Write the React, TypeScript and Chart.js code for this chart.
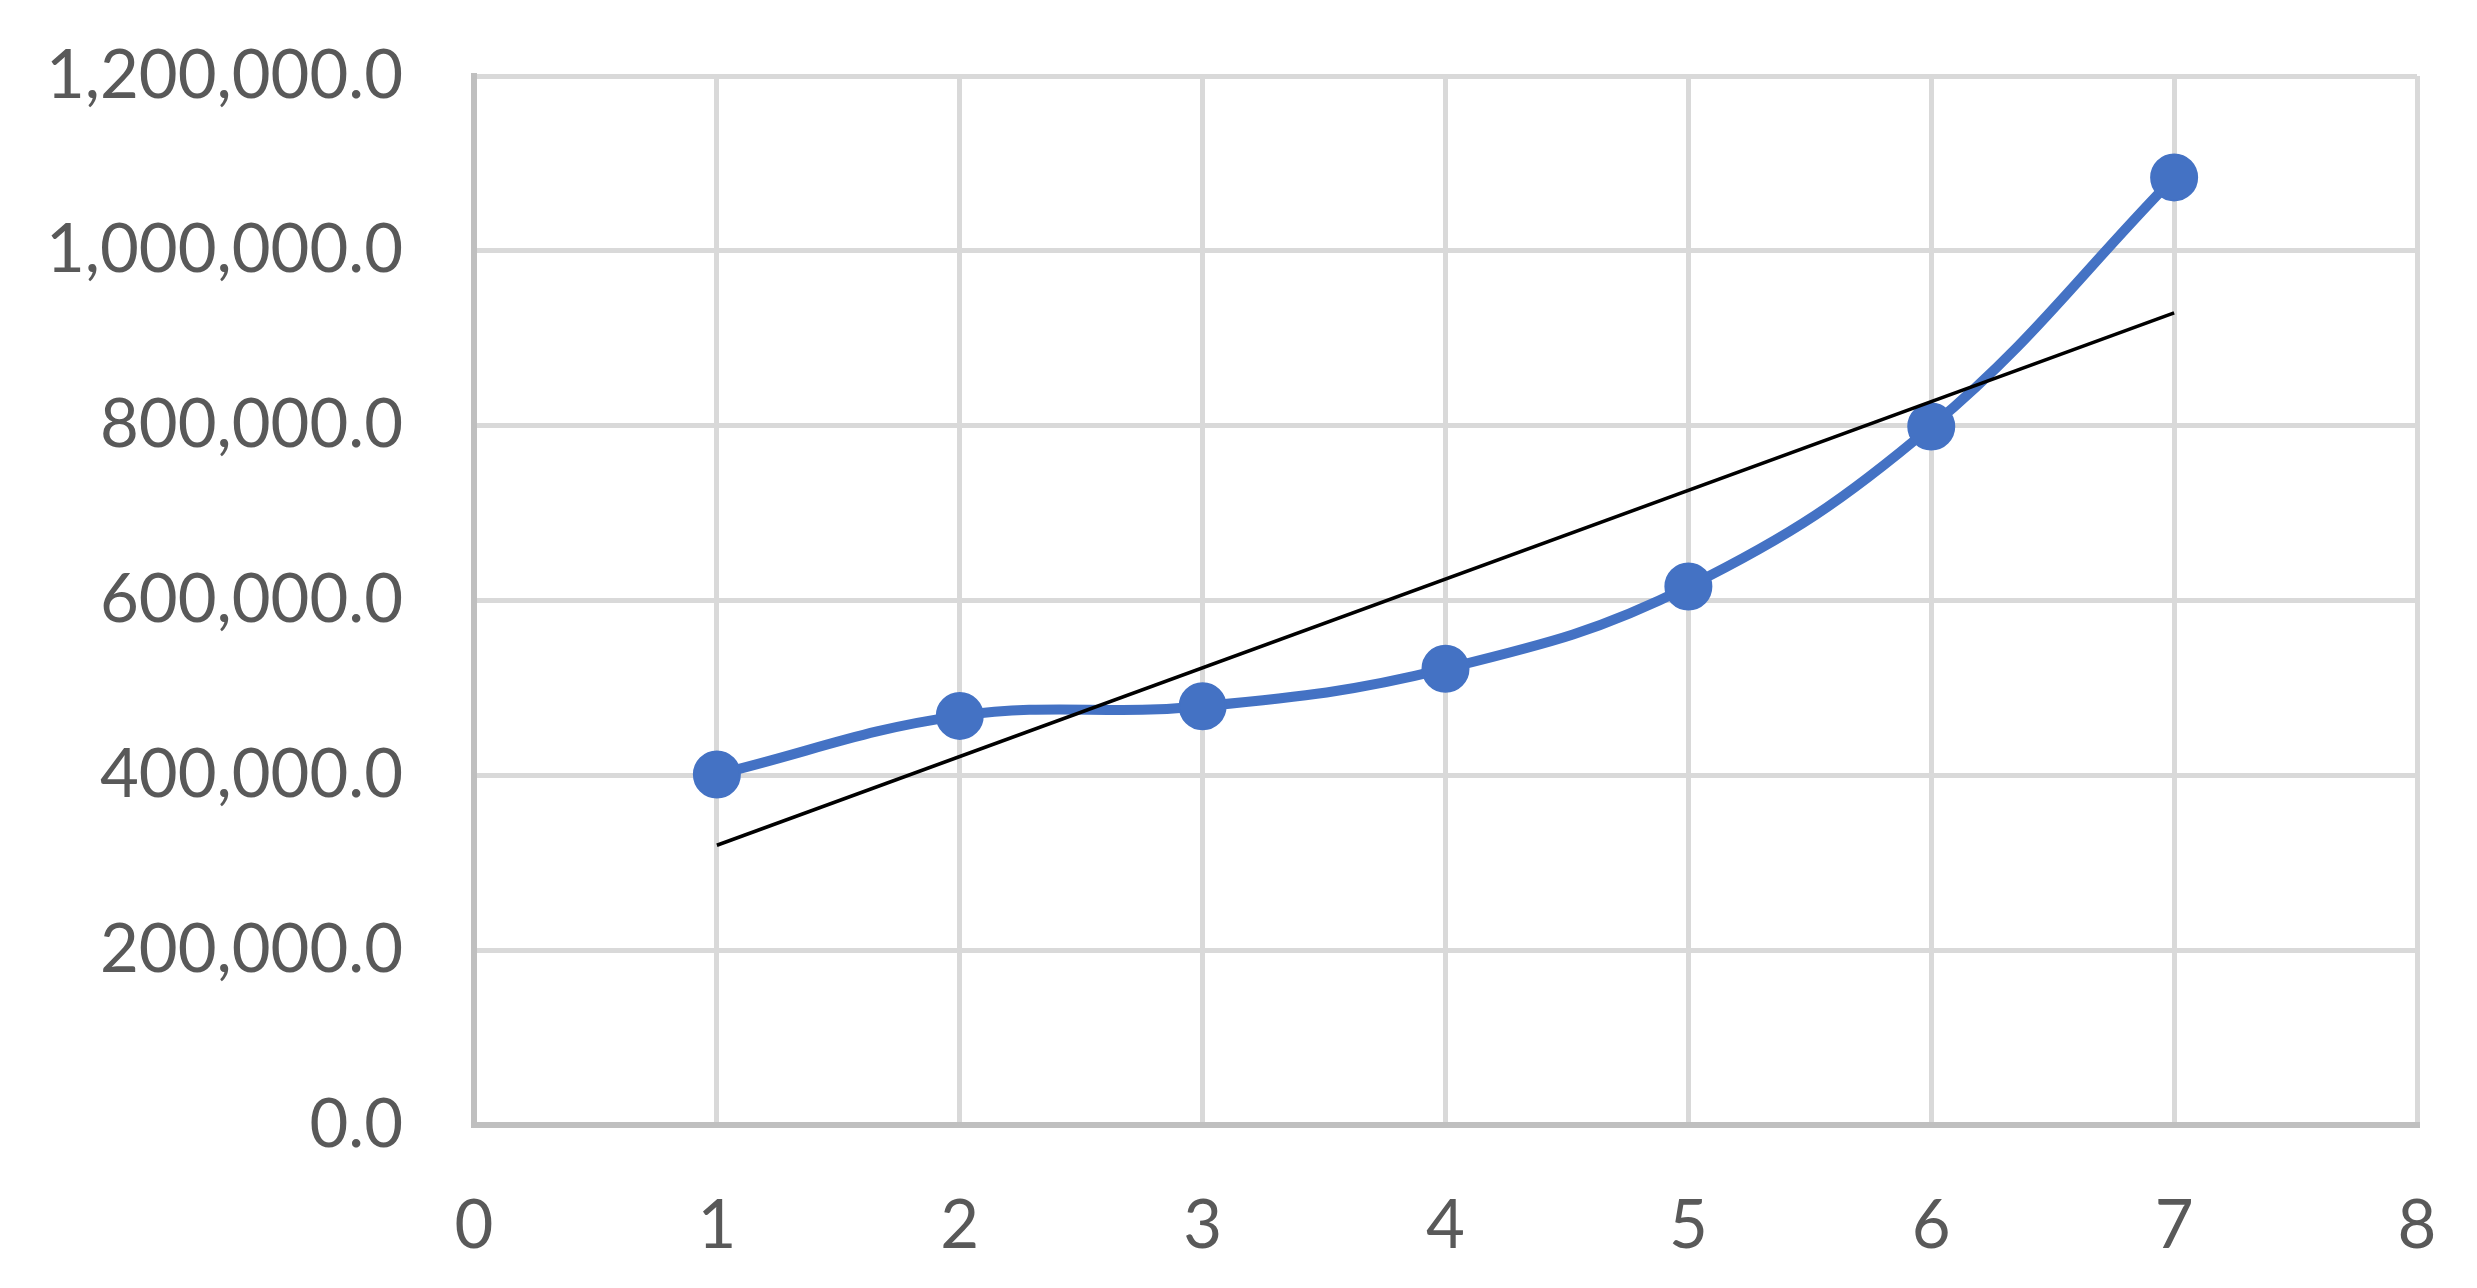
import React, { useEffect, useRef } from "react";
import { Chart, registerables } from "chart.js";

Chart.register(...registerables);

const xValues = [1, 2, 3, 4, 5, 6, 7];
const seriesValues = [401000, 468000, 479000, 522000, 616000, 799000, 1084000];
const trendX = [1, 7];
const trendValues = [320000, 929000];
const yTickValues = [0, 200000, 400000, 600000, 800000, 1000000, 1200000];
const xTickValues = [0, 1, 2, 3, 4, 5, 6, 7, 8];

const W = 2477;
const H = 1288;

export default function App() {
  const ref = useRef<HTMLCanvasElement | null>(null);

  useEffect(() => {
    if (!ref.current) return;
    const font = { family: "Lato", size: 67 };
    const chart = new Chart(ref.current, {
      type: "scatter",
      data: {
        datasets: [
          {
            label: "Trend",
            data: trendX.map((x, i) => ({ x, y: trendValues[i] })),
            showLine: true,
            borderColor: "#000000",
            borderWidth: 3.5,
            pointRadius: 0,
            fill: false,
            order: 0,
          },
          {
            label: "Series",
            data: xValues.map((x, i) => ({ x, y: seriesValues[i] })),
            showLine: true,
            borderColor: "#4472C4",
            backgroundColor: "#4472C4",
            borderWidth: 10,
            tension: 0.4,
            pointRadius: 23,
            pointBorderWidth: 2,
            pointBackgroundColor: "#4472C4",
            pointBorderColor: "#4472C4",
            fill: false,
            order: 1,
          },
        ],
      },
      options: {
        responsive: false,
        animation: false,
        devicePixelRatio: 1,
        layout: { padding: { top: 76, right: 60, left: 0, bottom: 0 } },
        plugins: { legend: { display: false }, tooltip: { enabled: false } },
        scales: {
          x: {
            type: "linear",
            min: 0,
            max: 8,
            afterBuildTicks: (s: any) => {
              s.ticks = xTickValues.map((v) => ({ value: v }));
            },
            afterFit: (s: any) => {
              s.height = H - 1125;
              s.paddingLeft = 0;
              s.paddingRight = 0;
              s.paddingTop = 0;
              s.paddingBottom = 0;
            },
            grid: { color: "#D9D9D9", lineWidth: 5, drawTicks: false },
            border: { color: "#BFBFBF", width: 6 },
            ticks: {
              color: "#595959",
              font,
              padding: 61,
              maxRotation: 0,
              callback: (v: any) => String(v),
            },
          },
          y: {
            type: "linear",
            min: 0,
            max: 1200000,
            afterBuildTicks: (s: any) => {
              s.ticks = yTickValues.map((v) => ({ value: v }));
            },
            afterFit: (s: any) => {
              s.width = 474;
              s.paddingLeft = 0;
              s.paddingRight = 0;
              s.paddingTop = 0;
              s.paddingBottom = 0;
            },
            grid: { color: "#D9D9D9", lineWidth: 5, drawTicks: false },
            border: { color: "#BFBFBF", width: 6 },
            ticks: {
              color: "#595959",
              font,
              padding: 71,
              callback: (v: any) =>
                Number(v).toLocaleString("en-US", {
                  minimumFractionDigits: 1,
                  maximumFractionDigits: 1,
                }),
            },
          },
        },
      },
    });
    return () => chart.destroy();
  }, []);

  return (
    <div style={{ position: "absolute", left: 0, top: 0, width: W, height: H, background: "#fff" }}>
      <canvas ref={ref} width={W} height={H} style={{ display: "block" }} />
    </div>
  );
}
